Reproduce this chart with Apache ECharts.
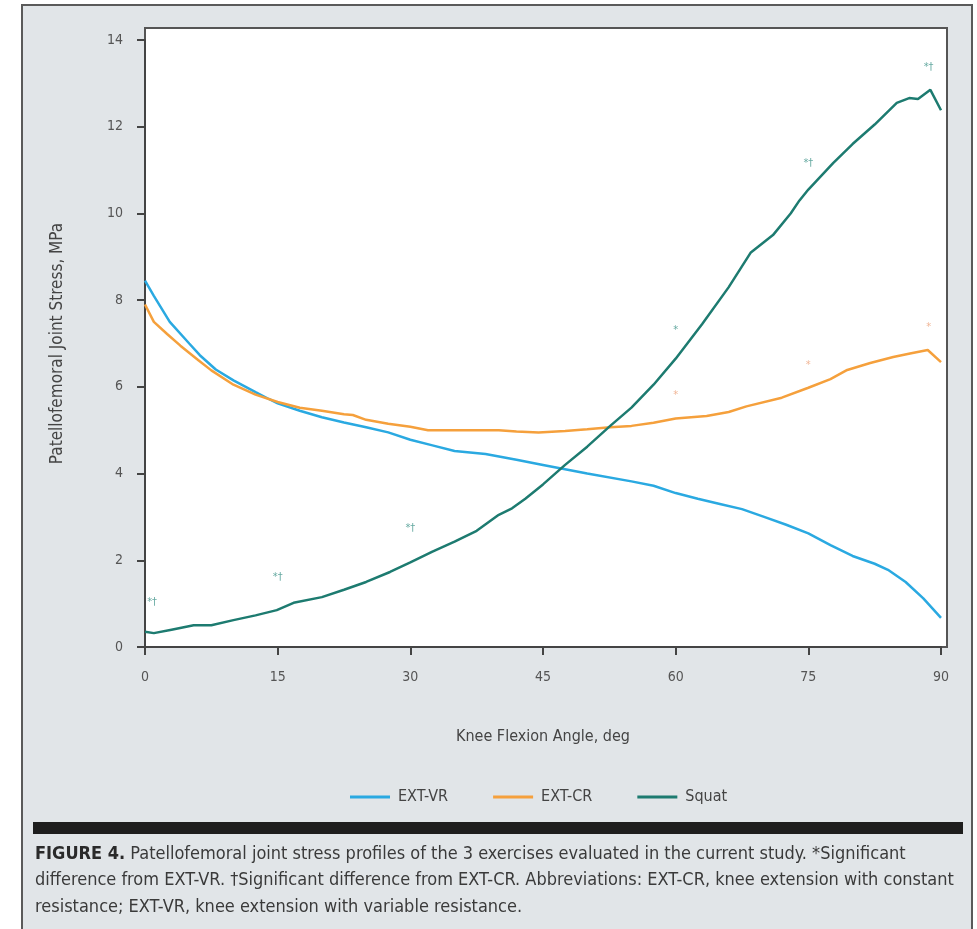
<!DOCTYPE html>
<html>
<head>
<meta charset="utf-8">
<script src="https://cdn.jsdelivr.net/npm/echarts@6/dist/echarts.min.js"></script>
<style>
html,body{margin:0;padding:0;background:#fff;}
#chart{width:977px;height:929px;}
</style>
</head>
<body>
<div id="chart"></div>
<script>
// ---- Data ----
const xTicks = [0, 15, 30, 45, 60, 75, 90];
const yTicks = [0, 2, 4, 6, 8, 10, 12, 14];

const vrAngles = [0, 1, 2.8, 5, 6.2, 8, 10, 12.5, 14, 15, 17.5, 20, 22.5, 25, 27.5, 30, 32.5, 35, 38.5, 42, 45, 50, 55, 57.5, 60, 62.5, 65, 67.5, 70, 72.5, 75, 77.5, 80, 82.5, 84, 86, 88, 90];
const vrValues = [8.45, 8.1, 7.5, 7.0, 6.73, 6.4, 6.15, 5.88, 5.72, 5.62, 5.45, 5.3, 5.18, 5.07, 4.95, 4.78, 4.65, 4.52, 4.45, 4.32, 4.2, 4.0, 3.82, 3.72, 3.55, 3.42, 3.3, 3.18, 3.0, 2.82, 2.62, 2.35, 2.1, 1.92, 1.78, 1.5, 1.12, 0.67];

const crAngles = [0, 1, 2.5, 4, 6, 7.5, 10, 12.5, 15, 17.5, 20, 22.5, 23.5, 25, 27.5, 30, 32, 35, 40, 42, 44.5, 47.5, 50, 52.6, 55, 57.5, 60, 63.5, 66, 68, 72, 75, 77.5, 79.4, 82, 84.6, 86.5, 88.5, 90];
const crValues = [7.9, 7.5, 7.22, 6.95, 6.62, 6.38, 6.05, 5.82, 5.65, 5.52, 5.45, 5.37, 5.35, 5.24, 5.15, 5.08, 5.0, 5.0, 5.0, 4.97, 4.95, 4.98, 5.02, 5.07, 5.1, 5.17, 5.27, 5.33, 5.42, 5.55, 5.75, 5.98, 6.18, 6.39, 6.55, 6.69, 6.77, 6.85, 6.57];

const sqAngles = [0, 1, 3, 5.5, 7.5, 10, 12.5, 14.9, 16.8, 20, 22.5, 25, 27.7, 30, 32.5, 35, 37.5, 40, 41.5, 43, 45, 47.5, 50, 52.6, 55, 57.5, 60, 63, 66, 68.5, 71, 73, 74, 75, 77.8, 80, 82.5, 85, 86.4, 87.4, 88.8, 90];
const sqValues = [0.35, 0.32, 0.4, 0.5, 0.5, 0.62, 0.73, 0.85, 1.02, 1.15, 1.32, 1.5, 1.73, 1.95, 2.2, 2.43, 2.68, 3.05, 3.2, 3.42, 3.75, 4.2, 4.62, 5.1, 5.52, 6.05, 6.65, 7.45, 8.3, 9.1, 9.5, 10.0, 10.3, 10.55, 11.16, 11.6, 12.05, 12.55, 12.66, 12.64, 12.85, 12.38];

const annoTealX = [0.8, 15, 30, 60, 75, 88.6];
const annoTealY = [1.04, 1.6, 2.75, 7.3, 11.15, 13.38];
const annoTealText = ['*†', '*†', '*†', '*', '*†', '*†'];
const annoOrangeX = [60, 75, 88.6];
const annoOrangeY = [5.8, 6.5, 7.38];
const annoOrangeText = ['*', '*', '*'];

const seriesNames = ['EXT-VR', 'EXT-CR', 'Squat'];
const colors = ['#2aa9e1', '#f5a03c', '#1d7b70'];

const xAxisTitle = 'Knee Flexion Angle, deg';
const yAxisTitle = 'Patellofemoral Joint Stress, MPa';
const captionBold = 'FIGURE 4.';
const captionLines = [
  ' Patellofemoral joint stress profiles of the 3 exercises evaluated in the current study. *Significant',
  'difference from EXT-VR. †Significant difference from EXT-CR. Abbreviations: EXT-CR, knee extension with constant',
  'resistance; EXT-VR, knee extension with variable resistance.'
];

// ---- Build ----
const FONT = "'DejaVu Sans Condensed', 'Liberation Sans Narrow', 'Roboto', sans-serif";
const zip = (a, b) => a.map((v, i) => [v, b[i]]);
const zip3 = (a, b, c) => a.map((v, i) => [v, b[i], c[i]]);

const chart = echarts.init(document.getElementById('chart'), null, {renderer: 'canvas'});

const lineSeries = [ [vrAngles, vrValues], [crAngles, crValues], [sqAngles, sqValues] ].map((d, i) => ({
  name: seriesNames[i],
  type: 'line',
  data: zip(d[0], d[1]),
  showSymbol: false,
  symbol: 'none',
  smooth: false,
  lineStyle: {color: colors[i], width: 2.5},
  itemStyle: {color: colors[i]},
  z: 3
}));

const annoSeries = (xs, ys, ts, col) => ({
  type: 'scatter',
  data: zip3(xs, ys, ts),
  symbolSize: 1,
  itemStyle: {color: 'rgba(0,0,0,0)'},
  label: {
    show: true, position: 'inside',
    formatter: p => p.value[2],
    color: col, fontSize: 11, fontFamily: FONT
  },
  silent: true, z: 4
});

const option = {
  animation: false,
  backgroundColor: '#ffffff',
  color: colors,
  textStyle: {fontFamily: FONT},
  grid: {left: 145, right: 36, top: 40, bottom: 282, containLabel: false},
  graphic: [
    {type: 'rect', z: -10, shape: {x: 22, y: 5, width: 950, height: 940},
     style: {fill: '#e1e5e8', stroke: '#5a5a5a', lineWidth: 2}},
    {type: 'rect', z: -5, shape: {x: 145, y: 28, width: 802, height: 619},
     style: {fill: '#ffffff', stroke: '#555555', lineWidth: 2}},
    {type: 'rect', z: -5, shape: {x: 33, y: 822, width: 930, height: 12},
     style: {fill: '#1e1e1e'}},
    {type: 'text', z: 5, left: 35, top: 845,
     style: {
       text: '{b|' + captionBold + '}{r|' + captionLines[0] + '}\n{r|' + captionLines[1] + '}\n{r|' + captionLines[2] + '}',
       rich: {
         b: {fontFamily: FONT, fontSize: 18, fontWeight: 'bold', fill: '#2a2a2a', lineHeight: 26.5},
         r: {fontFamily: FONT, fontSize: 18, fill: '#3a3a3a', lineHeight: 26.5}
       }
     }}
  ],
  legend: {
    data: seriesNames,
    left: 345, top: 784,
    itemWidth: 40, itemHeight: 3, itemGap: 45,
    icon: 'rect',
    textStyle: {fontFamily: FONT, fontSize: 16, color: '#444', padding: [0, 0, 0, 3]}
  },
  xAxis: {
    type: 'value', min: 0, max: 90, interval: 15,
    name: xAxisTitle, nameLocation: 'middle', nameGap: 82,
    nameTextStyle: {fontFamily: FONT, fontSize: 16, color: '#444'},
    axisLine: {show: true, onZero: false, lineStyle: {color: '#444', width: 2}},
    axisTick: {show: true, length: 8, lineStyle: {color: '#444', width: 2}},
    axisLabel: {margin: 23, fontSize: 14, color: '#555', fontFamily: FONT,
      formatter: v => xTicks.includes(v) ? String(v) : ''},
    splitLine: {show: false}
  },
  yAxis: {
    type: 'value', min: 0, max: 14, interval: 2,
    name: yAxisTitle, nameLocation: 'middle', nameGap: 79, nameRotate: 90,
    nameTextStyle: {fontFamily: FONT, fontSize: 17, color: '#444'},
    axisLine: {show: true, onZero: false, lineStyle: {color: '#444', width: 2}},
    axisTick: {show: true, length: 8, lineStyle: {color: '#444', width: 2}},
    axisLabel: {margin: 22, fontSize: 14, color: '#555', fontFamily: FONT,
      formatter: v => yTicks.includes(v) ? String(v) : ''},
    splitLine: {show: false}
  },
  series: [
    ...lineSeries,
    annoSeries(annoTealX, annoTealY, annoTealText, '#3f9489'),
    annoSeries(annoOrangeX, annoOrangeY, annoOrangeText, '#eea27a')
  ]
};
chart.setOption(option);
</script>
</body>
</html>
